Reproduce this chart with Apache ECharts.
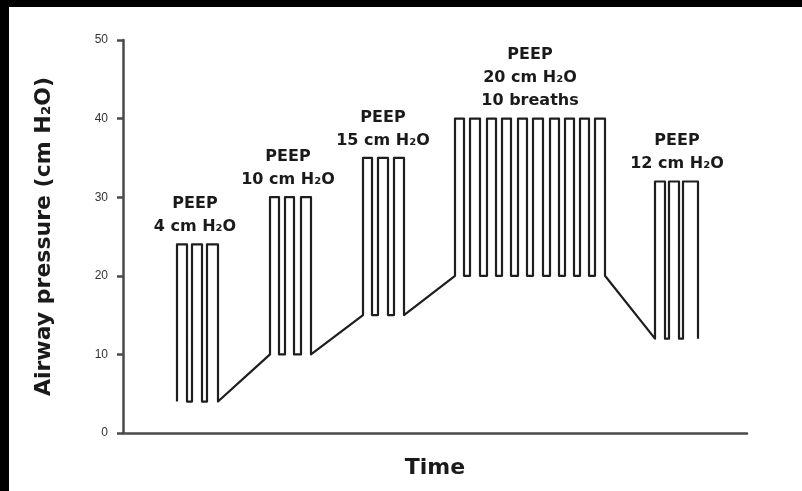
<!DOCTYPE html>
<html>
<head>
<meta charset="utf-8">
<script src="https://cdn.jsdelivr.net/npm/echarts@6/dist/echarts.min.js"></script>
<style>
  html, body { margin: 0; padding: 0; background: #000; width: 802px; height: 491px; overflow: hidden; }
  #chart { position: absolute; left: 9px; top: 7px; width: 793px; height: 484px; background: #fff; }
</style>
</head>
<body>
<div id="chart"></div>
<script>
// PEEP (baseline) and peak pressure for each step, cm H2O
const peepLevels = [4, 10, 15, 20, 12];
const peakLevels = [24, 30, 35, 40, 32];
// breath onset / end times (arbitrary time units)
const breathOnsets = [
  [54, 69, 84],
  [147, 162, 178],
  [240, 255, 271],
  [332, 347, 364, 379, 395, 410, 427, 442, 457, 472],
  [532, 546, 560]
];
const breathEnds = [
  [64, 79, 95],
  [156, 171, 188],
  [249, 265, 281],
  [341, 357, 373, 388, 404, 420, 436, 451, 466, 482],
  [542, 556, 575]
];
// label position (time) and text of each step
const labelTimes = [72, 165, 260, 407, 554];
const labelTexts = [
  'PEEP\n4 cm H₂O',
  'PEEP\n10 cm H₂O',
  'PEEP\n15 cm H₂O',
  'PEEP\n20 cm H₂O\n10 breaths',
  'PEEP\n12 cm H₂O'
];
const yTicks = [0, 10, 20, 30, 40, 50];
const timeMax = 624;

// build the square-wave trace from the breath table
const trace = [];
for (let g = 0; g < peepLevels.length; g++) {
  const on = breathOnsets[g], off = breathEnds[g];
  for (let b = 0; b < on.length; b++) {
    trace.push([on[b], peepLevels[g]]);
    trace.push([on[b], peakLevels[g]]);
    trace.push([off[b], peakLevels[g]]);
    trace.push([off[b], peepLevels[g]]);
  }
}
const labelData = labelTimes.map((t, i) => ({ value: [t, peakLevels[i]], label: { formatter: labelTexts[i] } }));

const chart = echarts.init(document.getElementById('chart'));
chart.setOption({
  animation: false,
  backgroundColor: '#fff',
  grid: { left: 114, right: 55, top: 33, bottom: 58 },
  xAxis: {
    type: 'value', min: 0, max: timeMax,
    name: 'Time', nameLocation: 'middle', nameGap: 24,
    nameTextStyle: { fontFamily: 'DejaVu Sans', fontWeight: 'bold', fontSize: 22, color: '#1a1a1a' },
    axisLine: { show: true, lineStyle: { color: '#4a4a4a', width: 2.5 } },
    axisTick: { show: false }, axisLabel: { show: false }, splitLine: { show: false }
  },
  yAxis: {
    type: 'value', min: yTicks[0], max: yTicks[yTicks.length - 1], interval: 10,
    name: 'Airway pressure (cm H₂O)', nameLocation: 'middle', nameGap: 68,
    nameTextStyle: { fontFamily: 'DejaVu Sans', fontWeight: 'bold', fontSize: 22, color: '#1a1a1a' },
    axisLine: { show: true, lineStyle: { color: '#4a4a4a', width: 2.5 } },
    axisTick: { show: true, length: 6, lineStyle: { color: '#4a4a4a', width: 2.5 } },
    axisLabel: { margin: 15, fontFamily: 'Liberation Sans', fontSize: 12, color: '#333' },
    splitLine: { show: false }
  },
  series: [
    {
      type: 'line', data: trace, showSymbol: false, silent: true,
      lineStyle: { color: '#1e1e1e', width: 2.2, join: 'round' }
    },
    {
      type: 'scatter', data: labelData, symbolSize: 0, silent: true,
      itemStyle: { opacity: 1 },
      label: {
        show: true, position: 'top', distance: 6,
        fontFamily: 'DejaVu Sans', fontWeight: 'bold', fontSize: 16, lineHeight: 23,
        color: '#1a1a1a', align: 'center', opacity: 1
      }
    }
  ]
});
</script>
</body>
</html>
